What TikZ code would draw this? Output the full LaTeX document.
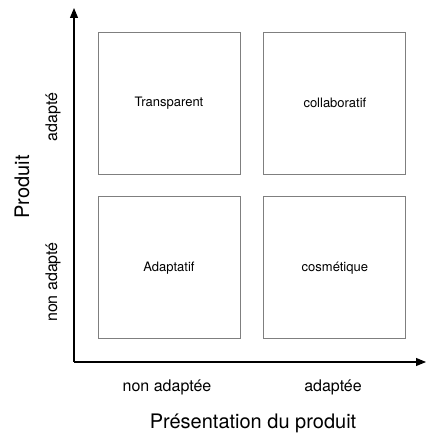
\documentclass[tikz,border=0pt]{standalone}
\usepackage{fontspec}
\setmainfont{TeX Gyre Heros}
\usetikzlibrary{arrows.meta,positioning}
\definecolor{qgrey}{HTML}{7F7F7F}

\begin{document}
\begin{tikzpicture}[
  x=1pt,y=1pt,
  font=\fontsize{13}{15}\selectfont,
  quad/.style={draw=qgrey,line width=0.9pt,minimum size=142pt,inner sep=0pt,align=center},
  axis/.style={line width=1.1pt,-{Triangle[length=10pt,width=8pt]}},
  val/.style={font=\fontsize{16}{18}\selectfont,inner sep=0pt},
  ttl/.style={font=\fontsize{20}{22}\selectfont,inner sep=0pt},
  >=Latex]
\useasboundingbox (0,0) rectangle (429,-435);
% axes
\coordinate (orig) at (74,-362);
\coordinate (ytip) at (74,-8);
\coordinate (xtip) at (426,-362);
\draw[axis] (orig) -- (ytip);
\draw[axis] (orig) -- (xtip);
% quadrants
\node[quad] (transp) at (169,-103) {Transparent};
\node[quad,right=23pt of transp] (collab) {collaboratif};
\node[quad,below=22pt of transp] (adapt) {Adaptatif};
\node[quad,below=22pt of collab] (cosm) {cosmétique};
% labels
\node[val,rotate=90] (yhi) at (53,-117) {adapté};
\node[val,rotate=90] (ylo) at (53,-282) {non adapté};
\node[ttl,rotate=90] (ytitle) at (22,-187) {Produit};
\node[val] (xlo) at (167,-387) {non adaptée};
\node[val] (xhi) at (333,-387) {adaptée};
\node[ttl] (xtitle) at (253,-423) {Présentation du produit};
\end{tikzpicture}
\end{document}
